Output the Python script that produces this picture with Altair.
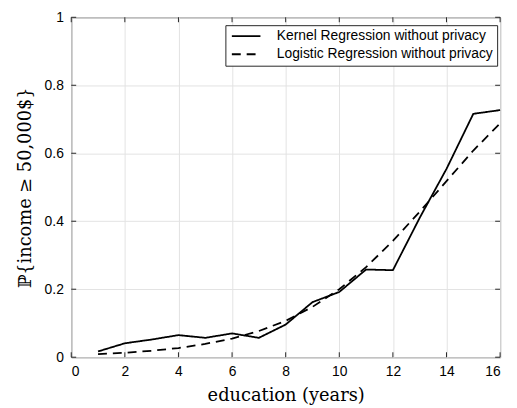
import altair as alt
import pandas as pd

education = list(range(1, 17))
kernel = [0.017, 0.041, 0.052, 0.065, 0.057, 0.070, 0.057, 0.096, 0.162, 0.192,
          0.258, 0.256, 0.410, 0.554, 0.716, 0.727]
logistic = [0.009, 0.013, 0.019, 0.027, 0.039, 0.055, 0.077, 0.107, 0.148, 0.200,
            0.265, 0.342, 0.428, 0.518, 0.608, 0.688]
methods = ["Kernel Regression without privacy", "Logistic Regression without privacy"]
x_ticks = [0, 2, 4, 6, 8, 10, 12, 14, 16]
y_ticks = [0, 0.2, 0.4, 0.6, 0.8, 1.0]

df = pd.DataFrame({
    "education": education * 2,
    "prob": kernel + logistic,
    "method": [methods[0]] * len(education) + [methods[1]] * len(education),
})
xt = pd.DataFrame({"education": x_ticks})
yt = pd.DataFrame({"prob": y_ticks})

W, H = 434, 344
AX = "#262626"

xscale = alt.Scale(domain=[0, 16], nice=False, zero=False)
yscale = alt.Scale(domain=[0, 1], nice=False)
xaxis = alt.Axis(values=x_ticks, title="education (years)")
yaxis = alt.Axis(values=y_ticks, format=".1~f", title="ℙ{income ≥ 50,000$}")

X = alt.X("education:Q", scale=xscale, axis=xaxis)
Y = alt.Y("prob:Q", scale=yscale, axis=yaxis)

lines = alt.Chart(df).mark_line(strokeWidth=1.8, color="black").encode(
    x=X, y=Y,
    strokeDash=alt.StrokeDash(
        "method:N",
        scale=alt.Scale(domain=methods, range=[[1, 0], [9, 6]]),
        legend=alt.Legend(
            title=None, orient="none", legendX=156, legendY=8,
            symbolType="M-3,0H3", symbolSize=93, symbolStrokeWidth=1.8,
            symbolStrokeColor="black", symbolFillColor="transparent",
            symbolOffset=10, labelOffset=24,
            labelFontSize=14, labelFont="Liberation Sans",
            labelColor="black", strokeColor=AX, fillColor="white",
            padding=4, rowPadding=4.4, labelLimit=400,
        ),
    ),
)

xb = alt.Chart(xt).mark_rule(color=AX, strokeWidth=1).encode(
    x=X, y=alt.value(H), y2=alt.value(H - 5))
xtop = alt.Chart(xt).mark_rule(color=AX, strokeWidth=1).encode(
    x=X, y=alt.value(0), y2=alt.value(5))
yl = alt.Chart(yt).mark_rule(color=AX, strokeWidth=1).encode(
    y=Y, x=alt.value(0), x2=alt.value(5))
yr = alt.Chart(yt).mark_rule(color=AX, strokeWidth=1).encode(
    y=Y, x=alt.value(W), x2=alt.value(W - 5))

chart = alt.layer(xb, xtop, yl, yr, lines).properties(
    width=W, height=H,
    autosize=alt.AutoSizeParams(type="none"),
    padding={"left": 64, "top": 7, "right": 9, "bottom": 49},
).configure_view(
    stroke=AX, strokeWidth=1,
).configure_axis(
    grid=True, gridColor="#e3e3e3", gridWidth=1,
    domain=False, ticks=False,
    labelFont="Liberation Sans", labelFontSize=14, labelColor="black",
    titleFont="DejaVu Serif", titleFontSize=18, titleFontWeight="normal",
    titleColor="black",
).configure_axisX(
    labelPadding=8, titlePadding=8,
).configure_axisY(
    labelPadding=8, titlePadding=10,
)

chart.save("out.html", embed_options={"renderer": "svg", "actions": False})
